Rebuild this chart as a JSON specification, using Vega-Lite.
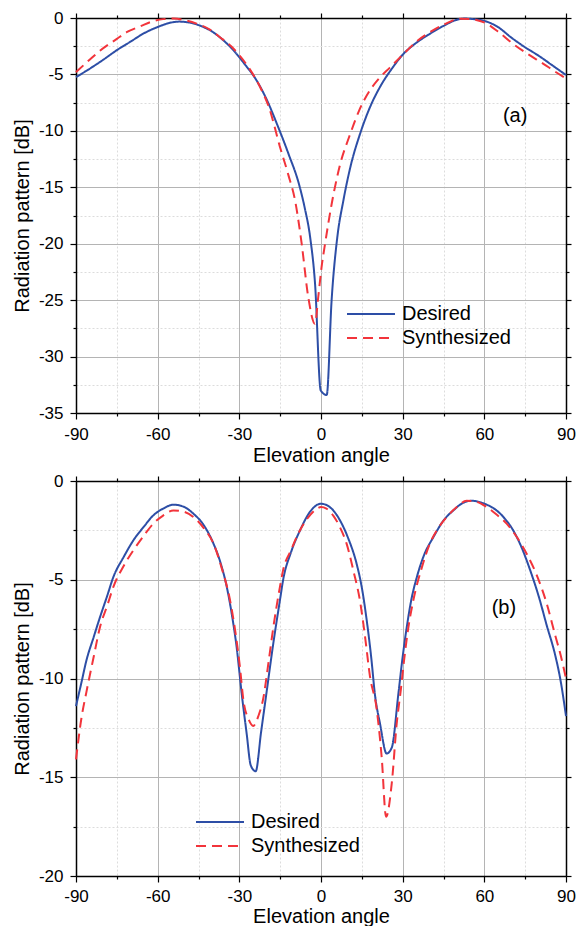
{
  "$schema": "https://vega.github.io/schema/vega-lite/v6.json",
  "padding": {"left": 12, "top": 9, "right": 0, "bottom": 0},
  "spacing": 7,
  "config": {
    "font": "Liberation Sans",
    "view": {"stroke": null},
    "axis": {
      "labelFont": "Liberation Sans", "titleFont": "Liberation Sans",
      "labelFontSize": 17, "titleFontSize": 20, "titleFontWeight": "normal",
      "labelColor": "#000", "titleColor": "#000",
      "domainColor": "#000", "domainWidth": 1.5,
      "tickColor": "#000", "tickWidth": 1.2,
      "labelFlush": false, "labelOverlap": false, "labelPadding": 7
    },
    "legend": {
      "labelFont": "Liberation Sans", "labelFontSize": 20, "labelColor": "#000",
      "symbolType": "M-2,0H2", "symbolSize": 576, "symbolStrokeWidth": 2,
      "labelOffset": 18, "rowPadding": 1
    }
  },
  "datasets": {
    "a": [
      {"series": "Desired", "angle": -90, "dB": -5.24},
      {"series": "Desired", "angle": -85, "dB": -4.5},
      {"series": "Desired", "angle": -80, "dB": -3.7},
      {"series": "Desired", "angle": -75, "dB": -2.85},
      {"series": "Desired", "angle": -70, "dB": -2.1},
      {"series": "Desired", "angle": -65, "dB": -1.35},
      {"series": "Desired", "angle": -60, "dB": -0.8},
      {"series": "Desired", "angle": -55, "dB": -0.4},
      {"series": "Desired", "angle": -52, "dB": -0.32},
      {"series": "Desired", "angle": -48, "dB": -0.42},
      {"series": "Desired", "angle": -44, "dB": -0.72},
      {"series": "Desired", "angle": -40, "dB": -1.2},
      {"series": "Desired", "angle": -36, "dB": -1.95},
      {"series": "Desired", "angle": -32, "dB": -2.9},
      {"series": "Desired", "angle": -28, "dB": -4.1},
      {"series": "Desired", "angle": -24, "dB": -5.4},
      {"series": "Desired", "angle": -20, "dB": -7.2},
      {"series": "Desired", "angle": -16, "dB": -9.5},
      {"series": "Desired", "angle": -12, "dB": -12.0},
      {"series": "Desired", "angle": -8, "dB": -14.8},
      {"series": "Desired", "angle": -6, "dB": -16.8},
      {"series": "Desired", "angle": -4, "dB": -19.4},
      {"series": "Desired", "angle": -2.2, "dB": -23.5},
      {"series": "Desired", "angle": -0.1, "dB": -33.0},
      {"series": "Desired", "angle": 2.1, "dB": -33.4},
      {"series": "Desired", "angle": 3.9, "dB": -25.0},
      {"series": "Desired", "angle": 6, "dB": -19.4},
      {"series": "Desired", "angle": 8.2, "dB": -16.2},
      {"series": "Desired", "angle": 11, "dB": -13.0},
      {"series": "Desired", "angle": 14.3, "dB": -10.3},
      {"series": "Desired", "angle": 18, "dB": -7.9},
      {"series": "Desired", "angle": 21.7, "dB": -6.1},
      {"series": "Desired", "angle": 26, "dB": -4.5},
      {"series": "Desired", "angle": 30.2, "dB": -3.2},
      {"series": "Desired", "angle": 35, "dB": -2.2},
      {"series": "Desired", "angle": 40, "dB": -1.4},
      {"series": "Desired", "angle": 45, "dB": -0.7},
      {"series": "Desired", "angle": 50, "dB": -0.15},
      {"series": "Desired", "angle": 53, "dB": -0.05},
      {"series": "Desired", "angle": 56, "dB": -0.1},
      {"series": "Desired", "angle": 60, "dB": -0.25},
      {"series": "Desired", "angle": 65, "dB": -0.8},
      {"series": "Desired", "angle": 70, "dB": -1.75},
      {"series": "Desired", "angle": 75, "dB": -2.6},
      {"series": "Desired", "angle": 80, "dB": -3.35},
      {"series": "Desired", "angle": 85, "dB": -4.2},
      {"series": "Desired", "angle": 90, "dB": -5.05},
      {"series": "Synthesized", "angle": -90, "dB": -4.8},
      {"series": "Synthesized", "angle": -85, "dB": -3.7},
      {"series": "Synthesized", "angle": -81.2, "dB": -2.9},
      {"series": "Synthesized", "angle": -75, "dB": -1.85},
      {"series": "Synthesized", "angle": -71.4, "dB": -1.26},
      {"series": "Synthesized", "angle": -66, "dB": -0.7},
      {"series": "Synthesized", "angle": -62.8, "dB": -0.37},
      {"series": "Synthesized", "angle": -58, "dB": -0.1},
      {"series": "Synthesized", "angle": -54, "dB": -0.05},
      {"series": "Synthesized", "angle": -50, "dB": -0.2},
      {"series": "Synthesized", "angle": -45.7, "dB": -0.5},
      {"series": "Synthesized", "angle": -41, "dB": -1.0},
      {"series": "Synthesized", "angle": -37.1, "dB": -1.7},
      {"series": "Synthesized", "angle": -33, "dB": -2.5},
      {"series": "Synthesized", "angle": -30, "dB": -3.3},
      {"series": "Synthesized", "angle": -26, "dB": -4.6},
      {"series": "Synthesized", "angle": -22.4, "dB": -6.1},
      {"series": "Synthesized", "angle": -19, "dB": -8.0},
      {"series": "Synthesized", "angle": -15.1, "dB": -11.4},
      {"series": "Synthesized", "angle": -12, "dB": -13.9},
      {"series": "Synthesized", "angle": -9.5, "dB": -16.2},
      {"series": "Synthesized", "angle": -7.1, "dB": -20.0},
      {"series": "Synthesized", "angle": -4.7, "dB": -24.7},
      {"series": "Synthesized", "angle": -2.2, "dB": -27.1},
      {"series": "Synthesized", "angle": -1.0, "dB": -24.7},
      {"series": "Synthesized", "angle": 0.2, "dB": -22.1},
      {"series": "Synthesized", "angle": 1.5, "dB": -20.0},
      {"series": "Synthesized", "angle": 3.9, "dB": -16.5},
      {"series": "Synthesized", "angle": 7, "dB": -13.0},
      {"series": "Synthesized", "angle": 10.7, "dB": -10.3},
      {"series": "Synthesized", "angle": 14, "dB": -8.2},
      {"series": "Synthesized", "angle": 18, "dB": -6.4},
      {"series": "Synthesized", "angle": 21.5, "dB": -5.3},
      {"series": "Synthesized", "angle": 25.3, "dB": -4.4},
      {"series": "Synthesized", "angle": 31.5, "dB": -2.9},
      {"series": "Synthesized", "angle": 35, "dB": -2.1},
      {"series": "Synthesized", "angle": 40, "dB": -1.26},
      {"series": "Synthesized", "angle": 45, "dB": -0.6},
      {"series": "Synthesized", "angle": 51, "dB": -0.07},
      {"series": "Synthesized", "angle": 55, "dB": -0.1},
      {"series": "Synthesized", "angle": 60.9, "dB": -0.5},
      {"series": "Synthesized", "angle": 65, "dB": -1.2},
      {"series": "Synthesized", "angle": 70.6, "dB": -2.3},
      {"series": "Synthesized", "angle": 76, "dB": -3.2},
      {"series": "Synthesized", "angle": 81.7, "dB": -4.06},
      {"series": "Synthesized", "angle": 86, "dB": -4.75},
      {"series": "Synthesized", "angle": 90, "dB": -5.35}
    ],
    "b": [
      {"series": "Desired", "angle": -90, "dB": -11.4},
      {"series": "Desired", "angle": -88, "dB": -10.2},
      {"series": "Desired", "angle": -86.2, "dB": -9.1},
      {"series": "Desired", "angle": -83.5, "dB": -7.9},
      {"series": "Desired", "angle": -81.2, "dB": -6.9},
      {"series": "Desired", "angle": -78.5, "dB": -5.8},
      {"series": "Desired", "angle": -76.3, "dB": -4.87},
      {"series": "Desired", "angle": -72.5, "dB": -3.85},
      {"series": "Desired", "angle": -68.9, "dB": -3.0},
      {"series": "Desired", "angle": -65, "dB": -2.3},
      {"series": "Desired", "angle": -61.6, "dB": -1.74},
      {"series": "Desired", "angle": -58, "dB": -1.4},
      {"series": "Desired", "angle": -54.2, "dB": -1.2},
      {"series": "Desired", "angle": -50.5, "dB": -1.3},
      {"series": "Desired", "angle": -46.9, "dB": -1.65},
      {"series": "Desired", "angle": -43, "dB": -2.25},
      {"series": "Desired", "angle": -39.5, "dB": -3.17},
      {"series": "Desired", "angle": -37, "dB": -4.1},
      {"series": "Desired", "angle": -34.6, "dB": -5.37},
      {"series": "Desired", "angle": -32.7, "dB": -6.8},
      {"series": "Desired", "angle": -31, "dB": -8.4},
      {"series": "Desired", "angle": -29.1, "dB": -10.8},
      {"series": "Desired", "angle": -27.3, "dB": -12.8},
      {"series": "Desired", "angle": -25.8, "dB": -14.4},
      {"series": "Desired", "angle": -24, "dB": -14.7},
      {"series": "Desired", "angle": -22, "dB": -12.7},
      {"series": "Desired", "angle": -20, "dB": -10.7},
      {"series": "Desired", "angle": -17.5, "dB": -8.2},
      {"series": "Desired", "angle": -15.1, "dB": -6.05},
      {"series": "Desired", "angle": -13.9, "dB": -5.0},
      {"series": "Desired", "angle": -11, "dB": -3.6},
      {"series": "Desired", "angle": -7.7, "dB": -2.5},
      {"series": "Desired", "angle": -4, "dB": -1.55},
      {"series": "Desired", "angle": 0, "dB": -1.15},
      {"series": "Desired", "angle": 3.5, "dB": -1.35},
      {"series": "Desired", "angle": 7, "dB": -2.0},
      {"series": "Desired", "angle": 10, "dB": -2.9},
      {"series": "Desired", "angle": 13.1, "dB": -4.2},
      {"series": "Desired", "angle": 15, "dB": -5.4},
      {"series": "Desired", "angle": 16.8, "dB": -7.06},
      {"series": "Desired", "angle": 18.5, "dB": -9.0},
      {"series": "Desired", "angle": 19.8, "dB": -10.8},
      {"series": "Desired", "angle": 21.7, "dB": -12.3},
      {"series": "Desired", "angle": 24.1, "dB": -13.8},
      {"series": "Desired", "angle": 26, "dB": -13.5},
      {"series": "Desired", "angle": 28.4, "dB": -10.8},
      {"series": "Desired", "angle": 30, "dB": -8.9},
      {"series": "Desired", "angle": 31.5, "dB": -7.4},
      {"series": "Desired", "angle": 33.2, "dB": -6.0},
      {"series": "Desired", "angle": 35.2, "dB": -4.87},
      {"series": "Desired", "angle": 38, "dB": -3.7},
      {"series": "Desired", "angle": 41.3, "dB": -2.84},
      {"series": "Desired", "angle": 45, "dB": -2.0},
      {"series": "Desired", "angle": 48.6, "dB": -1.49},
      {"series": "Desired", "angle": 52, "dB": -1.12},
      {"series": "Desired", "angle": 55.4, "dB": -1.0},
      {"series": "Desired", "angle": 60, "dB": -1.15},
      {"series": "Desired", "angle": 64.5, "dB": -1.49},
      {"series": "Desired", "angle": 67.5, "dB": -1.9},
      {"series": "Desired", "angle": 70.6, "dB": -2.5},
      {"series": "Desired", "angle": 73.8, "dB": -3.4},
      {"series": "Desired", "angle": 76.8, "dB": -4.5},
      {"series": "Desired", "angle": 80, "dB": -5.85},
      {"series": "Desired", "angle": 82.9, "dB": -7.3},
      {"series": "Desired", "angle": 86, "dB": -8.8},
      {"series": "Desired", "angle": 88, "dB": -10.1},
      {"series": "Desired", "angle": 90, "dB": -11.9},
      {"series": "Synthesized", "angle": -90, "dB": -14.1},
      {"series": "Synthesized", "angle": -88, "dB": -12.0},
      {"series": "Synthesized", "angle": -86.2, "dB": -10.7},
      {"series": "Synthesized", "angle": -83.5, "dB": -8.9},
      {"series": "Synthesized", "angle": -81.2, "dB": -7.4},
      {"series": "Synthesized", "angle": -78.5, "dB": -6.3},
      {"series": "Synthesized", "angle": -76.3, "dB": -5.37},
      {"series": "Synthesized", "angle": -72.5, "dB": -4.3},
      {"series": "Synthesized", "angle": -68.9, "dB": -3.5},
      {"series": "Synthesized", "angle": -65, "dB": -2.75},
      {"series": "Synthesized", "angle": -61.6, "dB": -2.16},
      {"series": "Synthesized", "angle": -58, "dB": -1.75},
      {"series": "Synthesized", "angle": -54.2, "dB": -1.49},
      {"series": "Synthesized", "angle": -50.5, "dB": -1.55},
      {"series": "Synthesized", "angle": -46.9, "dB": -1.82},
      {"series": "Synthesized", "angle": -43, "dB": -2.4},
      {"series": "Synthesized", "angle": -39.5, "dB": -3.17},
      {"series": "Synthesized", "angle": -36.5, "dB": -4.4},
      {"series": "Synthesized", "angle": -33.4, "dB": -6.05},
      {"series": "Synthesized", "angle": -31.5, "dB": -7.6},
      {"series": "Synthesized", "angle": -29.8, "dB": -9.4},
      {"series": "Synthesized", "angle": -28.5, "dB": -11.1},
      {"series": "Synthesized", "angle": -26.5, "dB": -12.1},
      {"series": "Synthesized", "angle": -24.9, "dB": -12.4},
      {"series": "Synthesized", "angle": -23, "dB": -11.9},
      {"series": "Synthesized", "angle": -21.2, "dB": -11.0},
      {"series": "Synthesized", "angle": -19.3, "dB": -9.2},
      {"series": "Synthesized", "angle": -17.5, "dB": -7.4},
      {"series": "Synthesized", "angle": -15.1, "dB": -5.37},
      {"series": "Synthesized", "angle": -13.9, "dB": -4.5},
      {"series": "Synthesized", "angle": -11, "dB": -3.5},
      {"series": "Synthesized", "angle": -8.5, "dB": -2.7},
      {"series": "Synthesized", "angle": -5, "dB": -1.9},
      {"series": "Synthesized", "angle": -2, "dB": -1.45},
      {"series": "Synthesized", "angle": 0, "dB": -1.32},
      {"series": "Synthesized", "angle": 2, "dB": -1.4},
      {"series": "Synthesized", "angle": 4.5, "dB": -1.75},
      {"series": "Synthesized", "angle": 7, "dB": -2.35},
      {"series": "Synthesized", "angle": 9.4, "dB": -3.17},
      {"series": "Synthesized", "angle": 12, "dB": -4.6},
      {"series": "Synthesized", "angle": 14.3, "dB": -6.05},
      {"series": "Synthesized", "angle": 16.2, "dB": -7.9},
      {"series": "Synthesized", "angle": 18, "dB": -9.9},
      {"series": "Synthesized", "angle": 20.4, "dB": -11.5},
      {"series": "Synthesized", "angle": 22.3, "dB": -14.0},
      {"series": "Synthesized", "angle": 23.9, "dB": -17.0},
      {"series": "Synthesized", "angle": 26, "dB": -15.3},
      {"series": "Synthesized", "angle": 27.8, "dB": -12.3},
      {"series": "Synthesized", "angle": 29.3, "dB": -10.6},
      {"series": "Synthesized", "angle": 30.5, "dB": -9.1},
      {"series": "Synthesized", "angle": 32, "dB": -7.5},
      {"series": "Synthesized", "angle": 33.9, "dB": -6.05},
      {"series": "Synthesized", "angle": 37, "dB": -4.4},
      {"series": "Synthesized", "angle": 40, "dB": -3.17},
      {"series": "Synthesized", "angle": 43, "dB": -2.4},
      {"series": "Synthesized", "angle": 46.2, "dB": -1.82},
      {"series": "Synthesized", "angle": 50, "dB": -1.3},
      {"series": "Synthesized", "angle": 53.5, "dB": -1.0},
      {"series": "Synthesized", "angle": 57, "dB": -1.05},
      {"series": "Synthesized", "angle": 60.9, "dB": -1.32},
      {"series": "Synthesized", "angle": 64.5, "dB": -1.7},
      {"series": "Synthesized", "angle": 68.2, "dB": -2.16},
      {"series": "Synthesized", "angle": 72, "dB": -2.85},
      {"series": "Synthesized", "angle": 75.6, "dB": -3.7},
      {"series": "Synthesized", "angle": 79.5, "dB": -4.85},
      {"series": "Synthesized", "angle": 82.9, "dB": -6.2},
      {"series": "Synthesized", "angle": 86, "dB": -7.8},
      {"series": "Synthesized", "angle": 88, "dB": -8.8},
      {"series": "Synthesized", "angle": 90, "dB": -10.0}
    ],
    "la": [{"angle": 71.3, "dB": -8.7, "label": "(a)"}],
    "lb": [{"angle": 67.2, "dB": -6.43, "label": "(b)"}]
  },
  "resolve": {
    "scale": {"color": "independent", "strokeDash": "independent"},
    "legend": {"color": "independent", "strokeDash": "independent"}
  },
  "vconcat": [
    {
      "width": 490, "height": 395,
      "resolve": {"axis": {"x": "independent", "y": "independent"}},
      "layer": [
        {
          "data": {"name": "a"},
          "mark": {"type": "line", "strokeWidth": 2, "interpolate": "monotone"},
          "encoding": {
            "x": {"field": "angle", "type": "quantitative",
              "scale": {"domain": [-90, 90], "nice": false, "zero": false},
              "axis": {"orient": "bottom", "title": "Elevation angle", "titlePadding": 3,
                "values": [-90, -75, -60, -45, -30, -15, 0, 15, 30, 45, 60, 75, 90],
                "labelExpr": "datum.value % 30 === 0 ? '' + datum.value : ''",
                "tickSize": {"condition": {"test": "datum.value % 30 !== 0", "value": 3}, "value": 6},
                "grid": true,
                "gridColor": {"condition": {"test": "datum.value % 30 !== 0", "value": "#dcdcdc"}, "value": "#b4b4b4"},
                "gridDash": {"condition": {"test": "datum.value % 30 !== 0", "value": [2, 2]}, "value": []}}},
            "y": {"field": "dB", "type": "quantitative",
              "scale": {"domain": [-35, 0], "nice": false, "zero": false},
              "axis": {"orient": "left", "title": "Radiation pattern [dB]", "titlePadding": 6,
                "values": [0, -2.5, -5, -7.5, -10, -12.5, -15, -17.5, -20, -22.5, -25, -27.5, -30, -32.5, -35],
                "labelExpr": "datum.value % 5 === 0 ? '' + datum.value : ''",
                "tickSize": {"condition": {"test": "datum.value % 5 !== 0", "value": 3}, "value": 6},
                "grid": true,
                "gridColor": {"condition": {"test": "datum.value % 5 !== 0", "value": "#dcdcdc"}, "value": "#b4b4b4"},
                "gridDash": {"condition": {"test": "datum.value % 5 !== 0", "value": [2, 2]}, "value": []}}},
            "color": {"field": "series", "type": "nominal",
              "scale": {"domain": ["Desired", "Synthesized"], "range": ["#2d4ea6", "#f2343b"]},
              "legend": {"orient": "none", "legendX": 282, "legendY": 283, "title": null}},
            "strokeDash": {"field": "series", "type": "nominal",
              "scale": {"domain": ["Desired", "Synthesized"], "range": [[1, 0], [10, 6]]},
              "legend": {"orient": "none", "legendX": 282, "legendY": 283, "title": null}}
          }
        },
        {
          "data": {"name": "la"},
          "mark": {"type": "text", "fontSize": 20, "font": "Liberation Sans", "color": "#000", "align": "center", "baseline": "middle"},
          "encoding": {
            "x": {"field": "angle", "type": "quantitative",
              "scale": {"domain": [-90, 90], "nice": false, "zero": false},
              "axis": {"orient": "top", "title": null, "labels": false, "grid": false,
                "values": [-90, -75, -60, -45, -30, -15, 0, 15, 30, 45, 60, 75, 90],
                "tickSize": {"condition": {"test": "datum.value % 30 !== 0", "value": 3}, "value": 5}}},
            "y": {"field": "dB", "type": "quantitative",
              "scale": {"domain": [-35, 0], "nice": false, "zero": false},
              "axis": {"orient": "right", "title": null, "labels": false, "grid": false,
                "values": [0, -2.5, -5, -7.5, -10, -12.5, -15, -17.5, -20, -22.5, -25, -27.5, -30, -32.5, -35],
                "tickSize": {"condition": {"test": "datum.value % 5 !== 0", "value": 3}, "value": 5}}},
            "text": {"field": "label"}
          }
        }
      ]
    },
    {
      "width": 490, "height": 395,
      "resolve": {"axis": {"x": "independent", "y": "independent"}},
      "layer": [
        {
          "data": {"name": "b"},
          "mark": {"type": "line", "strokeWidth": 2, "interpolate": "monotone"},
          "encoding": {
            "x": {"field": "angle", "type": "quantitative",
              "scale": {"domain": [-90, 90], "nice": false, "zero": false},
              "axis": {"orient": "bottom", "title": "Elevation angle", "titlePadding": 2, "labelPadding": 6,
                "values": [-90, -75, -60, -45, -30, -15, 0, 15, 30, 45, 60, 75, 90],
                "labelExpr": "datum.value % 30 === 0 ? '' + datum.value : ''",
                "tickSize": {"condition": {"test": "datum.value % 30 !== 0", "value": 3}, "value": 6},
                "grid": true,
                "gridColor": {"condition": {"test": "datum.value % 30 !== 0", "value": "#dcdcdc"}, "value": "#b4b4b4"},
                "gridDash": {"condition": {"test": "datum.value % 30 !== 0", "value": [2, 2]}, "value": []}}},
            "y": {"field": "dB", "type": "quantitative",
              "scale": {"domain": [-20, 0], "nice": false, "zero": false},
              "axis": {"orient": "left", "title": "Radiation pattern [dB]", "titlePadding": 6,
                "values": [0, -2.5, -5, -7.5, -10, -12.5, -15, -17.5, -20],
                "labelExpr": "datum.value % 5 === 0 ? '' + datum.value : ''",
                "tickSize": {"condition": {"test": "datum.value % 5 !== 0", "value": 3}, "value": 6},
                "grid": true,
                "gridColor": {"condition": {"test": "datum.value % 5 !== 0", "value": "#dcdcdc"}, "value": "#b4b4b4"},
                "gridDash": {"condition": {"test": "datum.value % 5 !== 0", "value": [2, 2]}, "value": []}}},
            "color": {"field": "series", "type": "nominal",
              "scale": {"domain": ["Desired", "Synthesized"], "range": ["#2d4ea6", "#f2343b"]},
              "legend": {"orient": "none", "legendX": 131, "legendY": 328, "title": null}},
            "strokeDash": {"field": "series", "type": "nominal",
              "scale": {"domain": ["Desired", "Synthesized"], "range": [[1, 0], [10, 6]]},
              "legend": {"orient": "none", "legendX": 131, "legendY": 328, "title": null}}
          }
        },
        {
          "data": {"name": "lb"},
          "mark": {"type": "text", "fontSize": 20, "font": "Liberation Sans", "color": "#000", "align": "center", "baseline": "middle"},
          "encoding": {
            "x": {"field": "angle", "type": "quantitative",
              "scale": {"domain": [-90, 90], "nice": false, "zero": false},
              "axis": {"orient": "top", "title": null, "labels": false, "grid": false,
                "values": [-90, -75, -60, -45, -30, -15, 0, 15, 30, 45, 60, 75, 90],
                "tickSize": {"condition": {"test": "datum.value % 30 !== 0", "value": 3}, "value": 5}}},
            "y": {"field": "dB", "type": "quantitative",
              "scale": {"domain": [-20, 0], "nice": false, "zero": false},
              "axis": {"orient": "right", "title": null, "labels": false, "grid": false,
                "values": [0, -2.5, -5, -7.5, -10, -12.5, -15, -17.5, -20],
                "tickSize": {"condition": {"test": "datum.value % 5 !== 0", "value": 3}, "value": 5}}},
            "text": {"field": "label"}
          }
        }
      ]
    }
  ]
}
